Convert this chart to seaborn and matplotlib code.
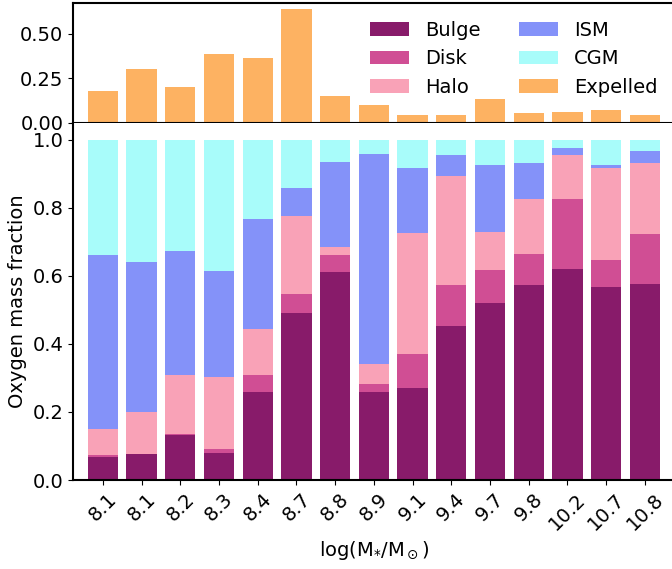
import numpy as np
import pandas as pd
import seaborn as sns
import matplotlib
matplotlib.use("Agg")
import matplotlib.pyplot as plt

# -- data
mass_labels = ["8.1", "8.1", "8.2", "8.3", "8.4", "8.7", "8.8", "8.9",
               "9.1", "9.4", "9.7", "9.8", "10.2", "10.7", "10.8"]

bulge = [0.069, 0.075, 0.133, 0.080, 0.259, 0.491, 0.612, 0.259,
         0.271, 0.453, 0.521, 0.574, 0.621, 0.568, 0.576]
disk = [0.003, 0.002, 0.003, 0.011, 0.050, 0.055, 0.050, 0.023,
        0.099, 0.119, 0.096, 0.090, 0.203, 0.079, 0.147]
halo = [0.078, 0.123, 0.173, 0.212, 0.135, 0.228, 0.023, 0.059,
        0.356, 0.322, 0.112, 0.162, 0.132, 0.268, 0.209]
ism = [0.512, 0.439, 0.365, 0.310, 0.324, 0.083, 0.250, 0.617,
       0.191, 0.061, 0.195, 0.105, 0.018, 0.010, 0.035]
cgm = [0.338, 0.361, 0.326, 0.387, 0.232, 0.143, 0.065, 0.042,
       0.083, 0.045, 0.076, 0.069, 0.026, 0.075, 0.033]
expelled = [0.178, 0.301, 0.199, 0.386, 0.364, 0.642, 0.148, 0.097,
            0.040, 0.045, 0.131, 0.051, 0.057, 0.068, 0.040]

components = ["Bulge", "Disk", "Halo", "ISM", "CGM"]
colors = {"Bulge": "#881b6a", "Disk": "#d04e94", "Halo": "#f9a2b7",
          "ISM": "#8492f9", "CGM": "#a8fcfa", "Expelled": "#fdb262"}

idx = np.arange(len(mass_labels))
df = pd.DataFrame({"idx": idx, "Bulge": bulge, "Disk": disk, "Halo": halo,
                   "ISM": ism, "CGM": cgm, "Expelled": expelled})
# cumulative tops for stacking (drawn from the top layer down)
tops = df[components].cumsum(axis=1)
tops["idx"] = idx

plt.rcParams["font.size"] = 14
plt.rcParams["axes.linewidth"] = 1.5

fig = plt.figure(figsize=(6.72, 5.69), dpi=100)
ax_top = fig.add_axes([0.1086, 0.7847, 0.8955, 0.21])
ax_bot = fig.add_axes([0.1086, 0.1564, 0.8955, 0.6283])

w = 0.78
handles = {}
for comp in components[::-1]:
    sns.barplot(data=tops, x="idx", y=comp, color=colors[comp], width=w,
                saturation=1, ax=ax_bot, label=comp)

sns.barplot(data=df, x="idx", y="Expelled", color=colors["Expelled"], width=w,
            saturation=1, ax=ax_top, label="Expelled")

# -- axes cosmetics
ax_bot.set_xlim(-0.77, 14.77)
ax_bot.set_ylim(0, 1.05)
ax_bot.set_yticks([0.0, 0.2, 0.4, 0.6, 0.8, 1.0])
ax_bot.set_xticks(idx)
ax_bot.set_xticklabels(mass_labels, rotation=45)
ax_bot.set_ylabel("Oxygen mass fraction")
ax_bot.set_xlabel(r"log(M$_{*}$/M$_\odot$)")
ax_bot.spines["top"].set_visible(False)

ax_top.set_xlim(-0.77, 14.77)
ax_top.set_ylim(0, max(expelled) * 1.05)
ax_top.set_yticks([0.0, 0.25, 0.5])
ax_top.set_yticklabels(["0.00", "0.25", "0.50"])
ax_top.set_xticks([])
ax_top.set_xlabel("")
ax_top.set_ylabel("")

# legend: Bulge, Disk, Halo | ISM, CGM, Expelled
h_bot, l_bot = ax_bot.get_legend_handles_labels()
h_top, l_top = ax_top.get_legend_handles_labels()
lookup = dict(zip(l_bot + l_top, h_bot + h_top))
order = ["Bulge", "Disk", "Halo", "ISM", "CGM", "Expelled"]
if ax_bot.get_legend() is not None:
    ax_bot.get_legend().remove()
ax_top.legend([lookup[k] for k in order], order, ncol=2, loc="upper right",
              frameon=False, fontsize=14)

fig.savefig("out.png", dpi=100)
